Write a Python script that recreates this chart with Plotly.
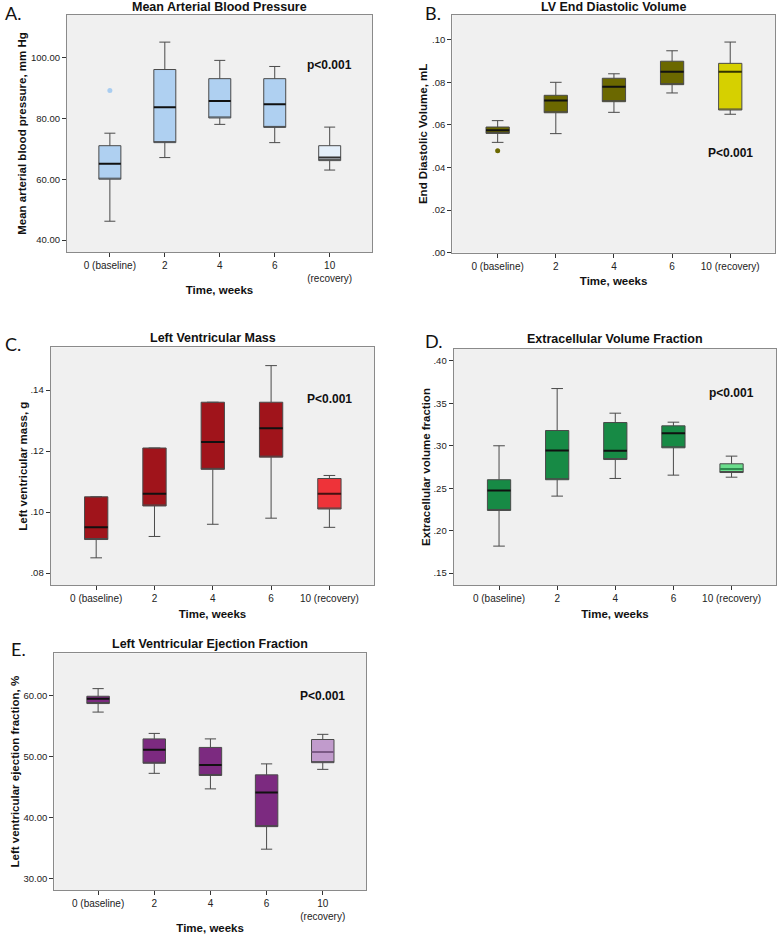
import plotly.graph_objects as go

# ---------------- data ----------------
categories = ["0 (baseline)", "2", "4", "6", "10 (recovery)"]

# Panel A: Mean arterial blood pressure (mm Hg)
map_low = [46.2, 67.1, 78.0, 72.0, 63.0]
map_q1 = [60.0, 72.0, 80.1, 77.0, 66.1]
map_med = [65.1, 83.6, 85.7, 84.6, 67.1]
map_q3 = [71.0, 96.0, 93.0, 93.0, 71.0]
map_high = [75.1, 105.0, 99.0, 97.0, 77.1]
map_outlier_cat = ["0 (baseline)"]
map_outlier_val = [89.1]

# Panel B: LV end diastolic volume (mL)
edv_low = [0.0518, 0.0559, 0.0659, 0.0750, 0.0650]
edv_q1 = [0.0560, 0.0657, 0.0709, 0.0789, 0.0670]
edv_med = [0.0575, 0.0715, 0.0779, 0.0850, 0.0850]
edv_q3 = [0.0590, 0.0739, 0.0819, 0.0899, 0.0889]
edv_high = [0.0620, 0.0800, 0.0840, 0.0948, 0.0989]
edv_outlier_cat = ["0 (baseline)"]
edv_outlier_val = [0.0479]

# Panel C: Left ventricular mass (g)
lvm_low = [0.085, 0.092, 0.096, 0.098, 0.095]
lvm_q1 = [0.091, 0.102, 0.114, 0.118, 0.101]
lvm_med = [0.095, 0.106, 0.123, 0.1275, 0.106]
lvm_q3 = [0.105, 0.121, 0.136, 0.136, 0.111]
lvm_high = [0.105, 0.121, 0.136, 0.148, 0.112]

# Panel D: Extracellular volume fraction
ecv_low = [0.1818, 0.2407, 0.2615, 0.2654, 0.2630]
ecv_q1 = [0.2238, 0.2600, 0.2838, 0.2976, 0.2685]
ecv_med = [0.2473, 0.2944, 0.2940, 0.3148, 0.2725]
ecv_q3 = [0.2600, 0.3180, 0.3274, 0.3235, 0.2788]
ecv_high = [0.3000, 0.3674, 0.3384, 0.3278, 0.2878]

# Panel E: LV ejection fraction (%)
ef_low = [57.3, 47.25, 44.7, 34.8, 47.9]
ef_q1 = [58.7, 48.9, 46.9, 38.5, 49.0]
ef_med = [59.5, 51.1, 48.6, 44.1, 50.75]
ef_q3 = [59.9, 52.9, 51.5, 47.0, 52.8]
ef_high = [61.15, 53.8, 52.9, 48.8, 53.65]

# tick values
map_ticks = [40, 60, 80, 100]
edv_ticks = [0.00, 0.02, 0.04, 0.06, 0.08, 0.10]
lvm_ticks = [0.08, 0.10, 0.12, 0.14]
ecv_ticks = [0.15, 0.20, 0.25, 0.30, 0.35, 0.40]
ef_ticks = [30, 40, 50, 60]

titles = ["Mean Arterial Blood Pressure", "LV End Diastolic Volume",
          "Left Ventricular Mass", "Extracellular Volume Fraction",
          "Left Ventricular Ejection Fraction"]
ytitles = ["Mean arterial blood pressure, mm Hg", "End Diastolic Volume, mL",
           "Left ventricular mass, g", "Extracellular volume fraction",
           "Left ventricular ejection fraction, %"]
panel_letters = ["A.", "B.", "C.", "D.", "E."]
p_texts = ["p<0.001", "P<0.001", "P<0.001", "p<0.001", "P<0.001"]
p_yvals = [97.5, 0.0467, 0.137, 0.3627, 60.0]

# ---------------- styling ----------------
W, H = 778, 934
FONT = "Liberation Sans, Arial, sans-serif"

panels = [
    dict(stats=(map_low, map_q1, map_med, map_q3, map_high), ticks=map_ticks, fmt="{:.2f}", strip=False,
         fill=["#AFD0F1"] * 4 + ["#E4EFFA"], medc=["#111111"] * 4 + ["#333333"],
         xpx=(67, 372), ypx=(15, 252), yr=(36.1, 113.9), wrap=True,
         outc=map_outlier_cat, outv=map_outlier_val, outcol="#A9CDF0",
         title_y=7, letter_xy=(3, 13), xt_standoff=1, yt_standoff=1),
    dict(stats=(edv_low, edv_q1, edv_med, edv_q3, edv_high), ticks=edv_ticks, fmt="{:.2f}", strip=True,
         fill=["#6B6800"] * 4 + ["#D6D000"], medc=["#111111"] * 4 + ["#333300"],
         xpx=(452.3, 775), ypx=(15, 252.7), yr=(0.0, 0.1116), wrap=False,
         outc=edv_outlier_cat, outv=edv_outlier_val, outcol="#6B6800",
         title_y=7, letter_xy=(423, 13), xt_standoff=6, yt_standoff=2),
    dict(stats=(lvm_low, lvm_q1, lvm_med, lvm_q3, lvm_high), ticks=lvm_ticks, fmt="{:.2f}", strip=True,
         fill=["#A0141B"] * 4 + ["#EE3339"], medc=["#111111"] * 4 + ["#441111"],
         xpx=(50.7, 374.3), ypx=(347.3, 585), yr=(0.0761, 0.154), wrap=False,
         outc=[], outv=[], outcol="#A0141B",
         title_y=338.5, letter_xy=(3, 344), xt_standoff=6, yt_standoff=0),
    dict(stats=(ecv_low, ecv_q1, ecv_med, ecv_q3, ecv_high), ticks=ecv_ticks, fmt="{:.2f}", strip=True,
         fill=["#178A45"] * 4 + ["#6ADD8C"], medc=["#111111"] * 4 + ["#2E8A4E"],
         xpx=(453.7, 776.3), ypx=(349, 585), yr=(0.136, 0.414), wrap=False,
         outc=[], outv=[], outcol="#178A45",
         title_y=339, letter_xy=(423, 341), xt_standoff=6, yt_standoff=0),
    dict(stats=(ef_low, ef_q1, ef_med, ef_q3, ef_high), ticks=ef_ticks, fmt="{:.2f}", strip=False,
         fill=["#7C2A80"] * 4 + ["#C19BCC"], medc=["#111111"] * 4 + ["#7C5A86"],
         xpx=(54.3, 366), ypx=(653.3, 890), yr=(28.1, 66.95), wrap=True,
         outc=[], outv=[], outcol="#7C2A80",
         title_y=644.3, letter_xy=(9, 649), xt_standoff=1, yt_standoff=1),
]

fig = go.Figure()
annotations = []

for i, p in enumerate(panels):
    n = "" if i == 0 else str(i + 1)
    xa, ya = "x" + n, "y" + n
    low, q1, med, q3, high = p["stats"]
    for j, cat in enumerate(categories):
        fig.add_trace(go.Box(
            x=[cat], q1=[q1[j]], median=[q1[j]], q3=[q3[j]],
            lowerfence=[low[j]], upperfence=[high[j]],
            fillcolor=p["fill"][j], line=dict(color="#4A4A4A", width=1),
            width=0.4, whiskerwidth=0.5, boxpoints=False, showlegend=False,
            xaxis=xa, yaxis=ya, hoverinfo="skip"))
        # median line drawn as a zero-height box in darker colour
        fig.add_trace(go.Box(
            x=[cat], q1=[med[j]], median=[med[j]], q3=[med[j]],
            lowerfence=[med[j]], upperfence=[med[j]],
            fillcolor="rgba(0,0,0,0)", line=dict(color=p["medc"][j], width=2),
            width=0.4, whiskerwidth=0, boxpoints=False, showlegend=False,
            xaxis=xa, yaxis=ya, hoverinfo="skip"))
    if p["outv"]:
        fig.add_trace(go.Scatter(
            x=p["outc"], y=p["outv"], mode="markers",
            marker=dict(color=p["outcol"], size=5), showlegend=False,
            xaxis=xa, yaxis=ya, hoverinfo="skip"))

    x0, x1 = p["xpx"]
    y0, y1 = p["ypx"]
    xdom = [x0 / W, x1 / W]
    ydom = [1 - y1 / H, 1 - y0 / H]
    ticktext = []
    for v in p["ticks"]:
        s = p["fmt"].format(v)
        if p["strip"] and s.startswith("0"):
            s = s[1:]
        ticktext.append(s)
    if p["wrap"]:
        xticktext = [c.replace(" (", "<br>(") if c.startswith("10") else c + "<br> "
                     for c in categories]
    else:
        xticktext = list(categories)
    fig.update_layout(**{
        "xaxis" + n: dict(
            domain=xdom, anchor=ya, type="category",
            categoryorder="array", categoryarray=categories,
            range=[-0.78, 4.77], tickmode="array", tickvals=categories, ticktext=xticktext,
            showline=True, mirror=True, linecolor="#8A8A8A", linewidth=1.2,
            ticks="outside", ticklen=4, tickcolor="#333333", showgrid=False, zeroline=False,
            tickfont=dict(family=FONT, size=10, color="#222222"),
            title=dict(text="<b>Time, weeks</b>", standoff=p["xt_standoff"],
                       font=dict(family=FONT, size=11.5, color="#111111")),
            automargin=False, fixedrange=True),
        "yaxis" + n: dict(
            domain=ydom, anchor=xa, range=list(p["yr"]),
            tickmode="array", tickvals=p["ticks"], ticktext=ticktext,
            showline=True, mirror=True, linecolor="#8A8A8A", linewidth=1.2,
            ticks="outside", ticklen=4, tickcolor="#333333", showgrid=False, zeroline=False,
            tickfont=dict(family=FONT, size=9.5, color="#222222"),
            title=dict(text="<b>" + ytitles[i] + "</b>", standoff=p["yt_standoff"],
                       font=dict(family=FONT, size=11.5, color="#111111")),
            automargin=False, fixedrange=True),
    })
    # subplot title
    annotations.append(dict(
        text="<b>" + titles[i] + "</b>", xref="paper", yref="paper",
        x=(x0 + x1) / 2 / W, y=1 - p["title_y"] / H, xanchor="center", yanchor="middle",
        showarrow=False, font=dict(family=FONT, size=12.5, color="#111111")))
    # panel letter
    lx, ly = p["letter_xy"]
    annotations.append(dict(
        text=panel_letters[i], xref="paper", yref="paper",
        x=lx / W, y=1 - ly / H, xanchor="left", yanchor="middle",
        showarrow=False, font=dict(family="Lato, Open Sans, sans-serif", size=18, color="#111111")))
    # p-value
    annotations.append(dict(
        text="<b>" + p_texts[i] + "</b>", xref=xa, yref=ya,
        x=categories[4], y=p_yvals[i], xanchor="center", yanchor="middle",
        showarrow=False, font=dict(family=FONT, size=12, color="#111111")))

fig.update_layout(
    width=W, height=H, autosize=False,
    margin=dict(l=0, r=0, t=0, b=0),
    paper_bgcolor="white", plot_bgcolor="#F0F0F0",
    boxmode="overlay", showlegend=False,
    annotations=annotations,
    font=dict(family=FONT, color="#222222"),
)

fig.write_html("out.html",
               config={"displayModeBar": False},
               post_script="document.body.style.margin='0';document.body.style.padding='0';")
